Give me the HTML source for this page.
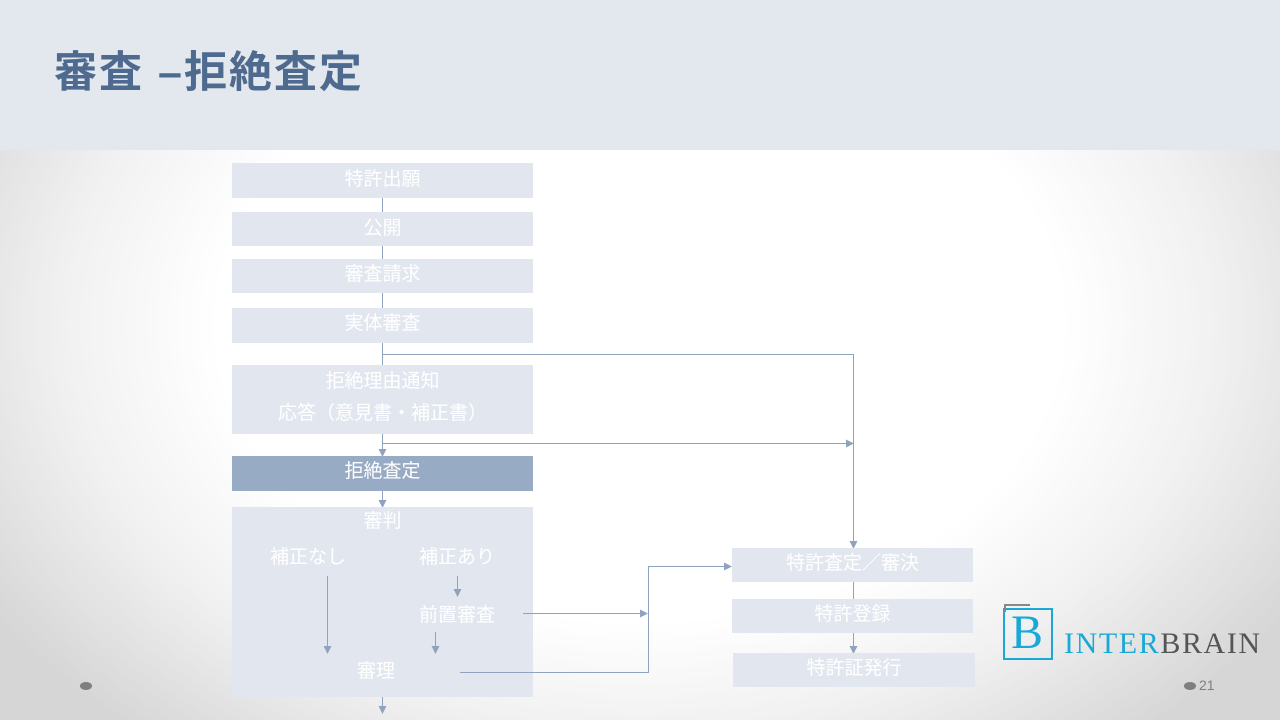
<!DOCTYPE html>
<html><head><meta charset="utf-8"><style>
body{margin:0;width:1280px;height:720px;overflow:hidden;position:relative;font-family:"Liberation Sans","Noto Sans CJK JP",sans-serif;
background:radial-gradient(ellipse 60% 75% at 50% 45%,#fff 55%,#f1f1f1 75%,#d6d6d6 100%);}
.hd{position:absolute;left:0;top:0;width:1280px;height:150px;background:#e3e8ef}
.t{position:absolute;left:54px;top:38px;font-size:43px;font-weight:bold;color:#4f6a8f;letter-spacing:2px}
.b{position:absolute;background:#e2e7ef;color:#fff;font-size:19px;text-align:center}
.l{position:absolute;color:#fff;font-size:19px;white-space:nowrap;transform:translateX(-50%)}
svg{position:absolute;left:0;top:0}
</style></head><body>
<div class="hd"></div><div class="t">審査 –拒絶査定</div>
<svg width="1280" height="720">
<defs><marker id="a" markerWidth="8" markerHeight="8" refX="7" refY="4" orient="auto" markerUnits="userSpaceOnUse"><path d="M0,0L8,4L0,8z" fill="#8fa3bf"/></marker></defs>
<g stroke="#8fa3bf" stroke-width="1" fill="none">
<path d="M382.5 198V456" marker-end="url(#a)"/>
<path d="M382.5 354.5H853.5V548" marker-end="url(#a)"/>
<path d="M382 443.5H853" marker-end="url(#a)"/>
<path d="M382.5 491V507" marker-end="url(#a)"/>
<path d="M382.5 697V713" marker-end="url(#a)"/>
<path d="M853.5 582V599"/>
<path d="M853.5 633V653" marker-end="url(#a)"/>
</g></svg>
<div class="b" style="left:232px;top:163px;width:301px;height:35px;line-height:33px">特許出願</div>
<div class="b" style="left:232px;top:212px;width:301px;height:34px;line-height:33px">公開</div>
<div class="b" style="left:232px;top:259px;width:301px;height:34px;line-height:31px">審査請求</div>
<div class="b" style="left:232px;top:308px;width:301px;height:35px;line-height:31px">実体審査</div>
<div class="b" style="left:232px;top:365px;width:301px;height:69px;line-height:32px;padding-top:1px;box-sizing:border-box">拒絶理由通知<br>応答（意見書・補正書）</div>
<div class="b" style="left:232px;top:456px;width:301px;height:35px;line-height:31px;background:#98abc4">拒絶査定</div>
<div class="b" style="left:232px;top:507px;width:301px;height:190px;line-height:30px">審判</div>
<div class="l" style="left:308px;top:542px">補正なし</div>
<div class="l" style="left:457px;top:542px">補正あり</div>
<div class="l" style="left:457px;top:600px">前置審査</div>
<div class="l" style="left:376px;top:656px">審理</div>
<div class="b" style="left:732px;top:548px;width:241px;height:34px;line-height:31px">特許査定／審決</div>
<div class="b" style="left:732px;top:599px;width:241px;height:34px;line-height:31px">特許登録</div>
<div class="b" style="left:733px;top:653px;width:242px;height:34px;line-height:31px">特許証発行</div>
<svg width="1280" height="720">
<defs><marker id="c" markerWidth="8" markerHeight="8" refX="7" refY="4" orient="auto" markerUnits="userSpaceOnUse"><path d="M0,0L8,4L0,8z" fill="#8fa3bf"/></marker></defs>
<g stroke="#8fa3bf" stroke-width="1" fill="none">
<path d="M457.5 576V596" marker-end="url(#c)"/>
<path d="M327.5 576V653" marker-end="url(#c)"/>
<path d="M435.5 632V653" marker-end="url(#c)"/>
<path d="M523 613.5H647" marker-end="url(#c)"/>
<path d="M460 672.5H648.5V566.5H731" marker-end="url(#c)"/>
</g></svg>
<div style="position:absolute;left:80px;top:682px;width:12px;height:8px;border-radius:50%;background:#7f7f7f"></div>
<div style="position:absolute;left:1184px;top:682px;width:12px;height:8px;border-radius:50%;background:#7f7f7f"></div>
<div style="position:absolute;left:1199px;top:677px;font-size:14px;color:#7f7f7f">21</div>
<div style="position:absolute;left:1003px;top:608px;width:50px;height:52px;border:2px solid #1aa9d6;box-sizing:border-box"></div>
<div style="position:absolute;left:1004px;top:604px;width:26px;height:8px;border:2px solid #888;border-bottom:none;border-right:none;box-sizing:border-box"></div>
<div style="position:absolute;left:1011px;top:607px;font-family:'Liberation Serif',serif;font-size:48px;color:#1aa9d6;line-height:52px">B</div>
<div style="position:absolute;left:1064px;top:627px;font-family:'Liberation Serif',serif;font-size:30px;letter-spacing:1.6px;line-height:34px"><span style="color:#1aa9d6">INTER</span><span style="color:#555">BRAIN</span></div>
</body></html>
